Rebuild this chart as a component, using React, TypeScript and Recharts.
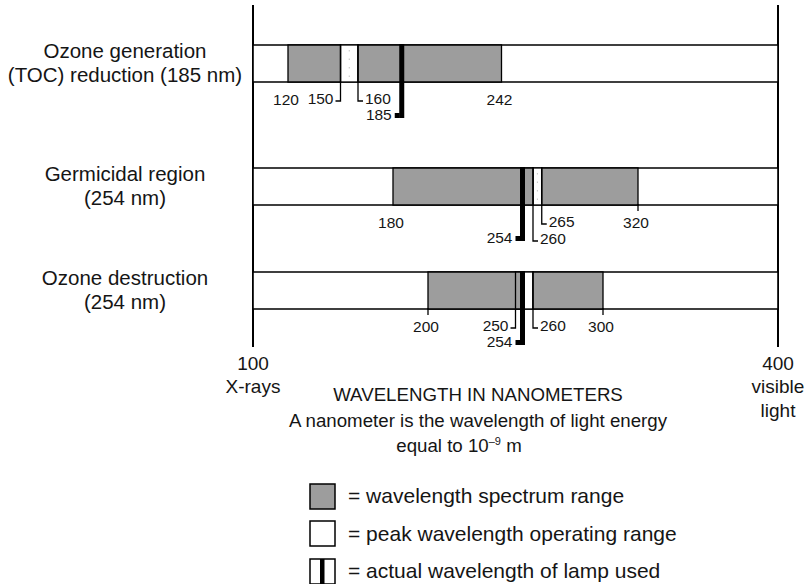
import React from "react";
import { ComposedChart, Bar, XAxis, YAxis, ReferenceLine } from "recharts";

// rows of the diagram
const ROW_KEYS = ["generation", "germicidal", "destruction"];
const ROW_TITLES = ["Ozone generation", "Germicidal region", "Ozone destruction"];
const ROW_SUBTITLES = ["(TOC) reduction (185 nm)", "(254 nm)", "(254 nm)"];

// wavelengths in nm
const SPECTRUM_LOW: [number, number][] = [[120, 150], [180, 260], [200, 254]];
const SPECTRUM_HIGH: [number, number][] = [[160, 242], [265, 320], [260, 300]];
const PEAK_RANGE: [number, number][] = [[150, 160], [260, 265], [250, 260]];
const LAMP_NM = [185, 254, 254];
const MARKED_NM = [
  [120, 150, 160, 242],
  [180, 260, 265, 320],
  [200, 250, 260, 300],
];

const AXIS_ENDS = [100, 400];
const AXIS_END_NOTES = [["X-rays"], ["visible", "light"]];

const LEGEND_ITEMS = [
  "wavelength spectrum range",
  "peak wavelength operating range",
  "actual wavelength of lamp used",
];

// layout
const FONT = '"Liberation Sans", Arial, Helvetica, sans-serif';
const INK = "#151515";
const GRAY = "#9d9d9d";
const BAND_TOPS = [44, 167, 271];
const BAND_H = 37;
// c = centred, t = centred with a tick, l / r = leader hooked left / right; digit = drop level
const MARK_STYLE = [
  ["c", "l1", "r1", "c"],
  ["c", "r2", "r1", "t"],
  ["t", "l1", "r1", "t"],
];

const numText = { fontSize: 15.5, fill: INK, fontFamily: FONT, dominantBaseline: "central" as const };

function Mark(props: any) {
  const { viewBox, nm, style } = props;
  const x = viewBox.x;
  const top = viewBox.y;
  const bottom = top + BAND_H;
  const kind = style[0];
  const ty = bottom + (style[1] === "2" ? 34 : 17);

  if (kind === "c" || kind === "t") {
    return (
      <g>
        {kind === "t" && <line x1={x} x2={x} y1={bottom} y2={bottom + 7} stroke="#000" strokeWidth={1.3} />}
        <text x={x - 2} y={ty + 1} textAnchor="middle" {...numText}>
          {nm}
        </text>
      </g>
    );
  }
  const dir = kind === "l" ? -1 : 1;
  return (
    <g>
      <polyline
        points={`${x},${top} ${x},${ty + 3} ${x + dir * 5},${ty + 3}`}
        fill="none"
        stroke="#000"
        strokeWidth={1.3}
      />
      <text x={x + dir * 7} y={ty} textAnchor={dir < 0 ? "end" : "start"} {...numText}>
        {nm}
      </text>
    </g>
  );
}

function LampMark(props: any) {
  const { viewBox, nm } = props;
  const x = viewBox.x;
  const top = viewBox.y;
  const bottom = top + BAND_H;
  return (
    <g>
      <rect x={x - 2.5} y={top} width={5} height={BAND_H + 37} fill="#000" />
      <rect x={x - 7} y={bottom + 32} width={5} height={5} fill="#000" />
      <text x={x - 10} y={bottom + 33.5} textAnchor="end" {...numText}>
        {nm}
      </text>
    </g>
  );
}

const PeakShape = (p: any) => (
  <g>
    <rect x={p.x} y={p.y} width={p.width} height={p.height} fill="#fff" stroke="#000" strokeWidth={1.3} />
    <line
      x1={p.x + p.width / 2}
      x2={p.x + p.width / 2}
      y1={p.y + 5}
      y2={p.y + p.height - 5}
      stroke="#c4c4c4"
      strokeDasharray="1.5 7"
    />
  </g>
);

const TitleTick = (props: any) => {
  const { y, payload } = props;
  const i = ROW_KEYS.indexOf(payload.value);
  const common = {
    x: 125,
    textAnchor: "middle" as const,
    dominantBaseline: "central" as const,
    fontSize: 20.5,
    fill: INK,
    fontFamily: FONT,
  };
  return (
    <g>
      <text y={y - 13} {...common}>
        {ROW_TITLES[i]}
      </text>
      <text y={y + 11} {...common}>
        {ROW_SUBTITLES[i]}
      </text>
    </g>
  );
};

const EndTick = (props: any) => {
  const { x, y, payload } = props;
  const i = AXIS_ENDS.indexOf(payload.value);
  const lines = [String(payload.value), ...AXIS_END_NOTES[i]];
  return (
    <g>
      {lines.map((t, k) => (
        <text
          key={k}
          x={x}
          y={y + 16 + k * 23.5}
          textAnchor="middle"
          dominantBaseline="central"
          fontSize={19}
          fill={INK}
          fontFamily={FONT}
        >
          {t}
        </text>
      ))}
    </g>
  );
};

function RowChart({ index }: { index: number }) {
  const data = [
    {
      key: ROW_KEYS[index],
      full: AXIS_ENDS,
      low: SPECTRUM_LOW[index],
      high: SPECTRUM_HIGH[index],
      peak: PEAK_RANGE[index],
    },
  ];
  return (
    <div style={{ position: "absolute", left: 0, top: BAND_TOPS[index] - 8 }}>
      <ComposedChart
        width={810}
        height={116}
        data={data}
        layout="vertical"
        margin={{ top: 8, right: 32, bottom: 70, left: 0 }}
        barSize={BAND_H}
        barGap={-BAND_H}
      >
        <XAxis type="number" domain={AXIS_ENDS} hide />
        <YAxis
          type="category"
          dataKey="key"
          width={253}
          axisLine={false}
          tickLine={false}
          interval={0}
          tick={<TitleTick />}
        />
        <Bar dataKey="full" fill="#fff" stroke="#000" strokeWidth={1.6} isAnimationActive={false} />
        <Bar dataKey="peak" shape={PeakShape} isAnimationActive={false} />
        <Bar dataKey="low" fill={GRAY} stroke="#000" strokeWidth={1.3} isAnimationActive={false} />
        <Bar dataKey="high" fill={GRAY} stroke="#000" strokeWidth={1.3} isAnimationActive={false} />
        {MARKED_NM[index].map((nm, j) => (
          <ReferenceLine
            key={`m-${nm}`}
            x={nm}
            stroke="none"
            label={(p: any) => <Mark {...p} nm={nm} style={MARK_STYLE[index][j]} />}
          />
        ))}
        <ReferenceLine
          x={LAMP_NM[index]}
          stroke="none"
          label={(p: any) => <LampMark {...p} nm={LAMP_NM[index]} />}
        />
      </ComposedChart>
    </div>
  );
}

function LegendIcon({ index }: { index: number }) {
  return (
    <svg width={27} height={27} style={{ display: "block" }}>
      <rect x={1} y={1} width={25} height={25} fill={index === 0 ? GRAY : "#fff"} stroke="#000" strokeWidth={1.5} />
      {index === 2 && <rect x={11} y={1} width={4.5} height={25} fill="#000" />}
    </svg>
  );
}

const textLine = (top: number, center: number, size: number): React.CSSProperties => ({
  position: "absolute",
  left: center - 300,
  width: 600,
  top: top - 12,
  lineHeight: "24px",
  textAlign: "center",
  fontSize: size,
  color: INK,
  whiteSpace: "nowrap",
});

export default function App() {
  return (
    <div
      style={{
        position: "relative",
        width: 810,
        height: 584,
        background: "#fff",
        overflow: "hidden",
        fontFamily: FONT,
      }}
    >
      <style>{"body{margin:0}"}</style>
      <div style={{ position: "absolute", left: 0, top: 0 }}>
        <ComposedChart
          width={810}
          height={584}
          data={LAMP_NM.map((nm) => ({ nm, v: 0.5 }))}
          margin={{ top: 5, right: 32, bottom: 207, left: 253 }}
        >
          <XAxis
            type="number"
            dataKey="nm"
            domain={AXIS_ENDS}
            ticks={AXIS_ENDS}
            interval={0}
            axisLine={false}
            tickLine={false}
            tickSize={0}
            tickMargin={0}
            height={30}
            tick={<EndTick />}
          />
          <YAxis type="number" dataKey="v" domain={[0, 1]} hide />
          <ReferenceLine x={AXIS_ENDS[0]} stroke="#000" strokeWidth={2} ifOverflow="visible" />
          <ReferenceLine x={AXIS_ENDS[1]} stroke="#000" strokeWidth={2} ifOverflow="visible" />
        </ComposedChart>
      </div>

      {ROW_KEYS.map((k, i) => (
        <RowChart key={k} index={i} />
      ))}

      <div style={textLine(395, 478, 18.7)}>WAVELENGTH IN NANOMETERS</div>
      <div style={textLine(421, 478, 18.7)}>A nanometer is the wavelength of light energy</div>
      <div style={textLine(446, 459, 18.7)}>
        equal to 10<sup style={{ fontSize: 11, lineHeight: 0 }}>–9</sup> m
      </div>

      <div style={{ position: "absolute", left: 309, top: 477.5 }}>
        {LEGEND_ITEMS.map((t, i) => (
          <div key={t} style={{ display: "flex", alignItems: "center", height: 37.5 }}>
            <LegendIcon index={i} />
            <span style={{ marginLeft: 12, fontSize: 21, color: INK, whiteSpace: "nowrap" }}>= {t}</span>
          </div>
        ))}
      </div>
    </div>
  );
}
